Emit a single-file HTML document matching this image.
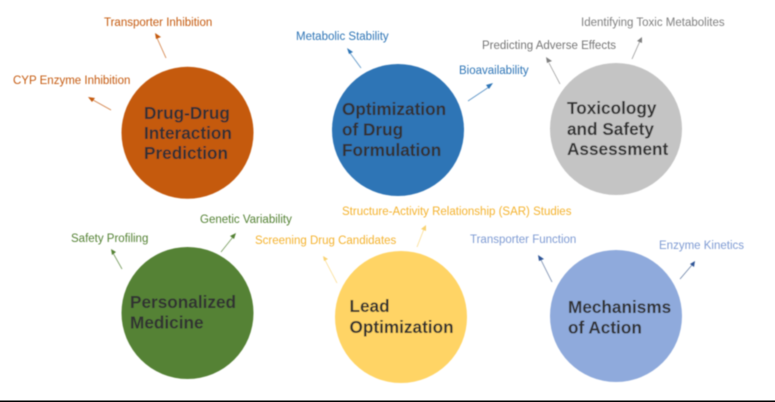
<!DOCTYPE html>
<html><head><meta charset="utf-8"><style>
html,body{margin:0;padding:0;background:#fff;width:775px;height:402px;overflow:hidden}
svg{display:block}
text{font-family:"Liberation Sans",sans-serif}
.t{font-size:17.2px;font-weight:700;fill:#333}
.l{font-size:11.5px}
</style></head><body>
<svg width="775" height="402" viewBox="0 0 775 402" xmlns="http://www.w3.org/2000/svg">
<defs>
<filter id="b" x="-5%" y="-5%" width="110%" height="110%"><feGaussianBlur stdDeviation="0.4"/></filter>
</defs>
<rect width="775" height="402" fill="#fff"/>
<g filter="url(#b)">
<circle cx="187.5" cy="132.8" r="66" fill="#c55a11"/>
<circle cx="398" cy="130" r="66" fill="#2e75b6"/>
<circle cx="616" cy="129" r="66" fill="#c4c4c4"/>
<circle cx="187.5" cy="313" r="66" fill="#548235"/>
<circle cx="401" cy="317" r="66" fill="#ffd465"/>
<circle cx="616" cy="316" r="66" fill="#8faadc"/>

<text class="t" x="144" y="119">Drug-Drug</text>
<text class="t" x="144" y="139">Interaction</text>
<text class="t" x="144" y="159">Prediction</text>
<text class="t" x="342" y="115">Optimization</text>
<text class="t" x="342" y="135.500">of Drug</text>
<text class="t" x="342" y="156">Formulation</text>
<text class="t" x="567" y="114">Toxicology</text>
<text class="t" x="567" y="135">and Safety</text>
<text class="t" x="567" y="155">Assessment</text>
<text class="t" x="130" y="308">Personalized</text>
<text class="t" x="130" y="328.500">Medicine</text>
<text class="t" x="349.500" y="312">Lead</text>
<text class="t" x="349.500" y="333">Optimization</text>
<text class="t" x="568" y="313">Mechanisms</text>
<text class="t" x="568" y="333.500">of Action</text>

<g class="l">
<text x="104" y="26" fill="#c55a11">Transporter Inhibition</text>
<text x="13" y="84" fill="#c55a11">CYP Enzyme Inhibition</text>
<text x="296" y="40" fill="#2e75b6">Metabolic Stability</text>
<text x="459" y="74" fill="#2e75b6">Bioavailability</text>
<text x="482" y="49" fill="#767676">Predicting Adverse Effects</text>
<text x="581" y="26" fill="#808080">Identifying Toxic Metabolites</text>
<text x="71" y="242" fill="#548235">Safety Profiling</text>
<text x="200" y="223" fill="#548235">Genetic Variability</text>
<text x="255" y="244" fill="#f4b22e">Screening Drug Candidates</text>
<text x="342" y="215" fill="#f4b22e">Structure-Activity Relationship (SAR) Studies</text>
<text x="470" y="243" fill="#7f9bd3">Transporter Function</text>
<text x="659" y="249" fill="#7f9bd3">Enzyme Kinetics</text>
</g>

<g stroke-width="0.8" fill="none" opacity="0.8">
<line x1="166" y1="58" x2="157" y2="38" stroke="#c55a11"/>
<line x1="111" y1="110" x2="93" y2="100" stroke="#c55a11"/>
<line x1="361" y1="68" x2="350" y2="53" stroke="#2e75b6"/>
<line x1="468" y1="101" x2="489" y2="87" stroke="#2e75b6"/>
<line x1="560" y1="84" x2="549" y2="63" stroke="#808080"/>
<line x1="632" y1="59" x2="640" y2="41" stroke="#808080"/>
<line x1="122" y1="269" x2="113" y2="253" stroke="#548235"/>
<line x1="221" y1="252" x2="233" y2="237" stroke="#548235"/>
<line x1="337" y1="283" x2="325" y2="260" stroke="#f9d271"/>
<line x1="417" y1="247" x2="424" y2="229" stroke="#f9d271"/>
<line x1="552" y1="282" x2="541" y2="260" stroke="#44618f"/>
<line x1="680" y1="279" x2="692" y2="265" stroke="#44618f"/>
</g>
<polygon points="155,33 161,37 156,39" fill="#c55a11"/>
<polygon points="88,97 95,98 92,102" fill="#c55a11"/>
<polygon points="347,48 353,52 349,54" fill="#2e75b6"/>
<polygon points="493,83 489,89 486,85" fill="#2e75b6"/>
<polygon points="546,57 552,61 547,63" fill="#808080"/>
<polygon points="642,37 642,43 637,41" fill="#808080"/>
<polygon points="111,249 116,252 112,255" fill="#548235"/>
<polygon points="236,233 234,239 230,236" fill="#548235"/>
<polygon points="323,256 328,259 324,261" fill="#f9d271"/>
<polygon points="426,225 426,231 421,229" fill="#f9d271"/>
<polygon points="538,255 544,259 539,261" fill="#2f5597"/>
<polygon points="695,261 694,267 690,264" fill="#2f5597"/>
</g>
<rect x="0" y="400.500" width="775" height="1.500" fill="#000"/>
</svg>
</body></html>
